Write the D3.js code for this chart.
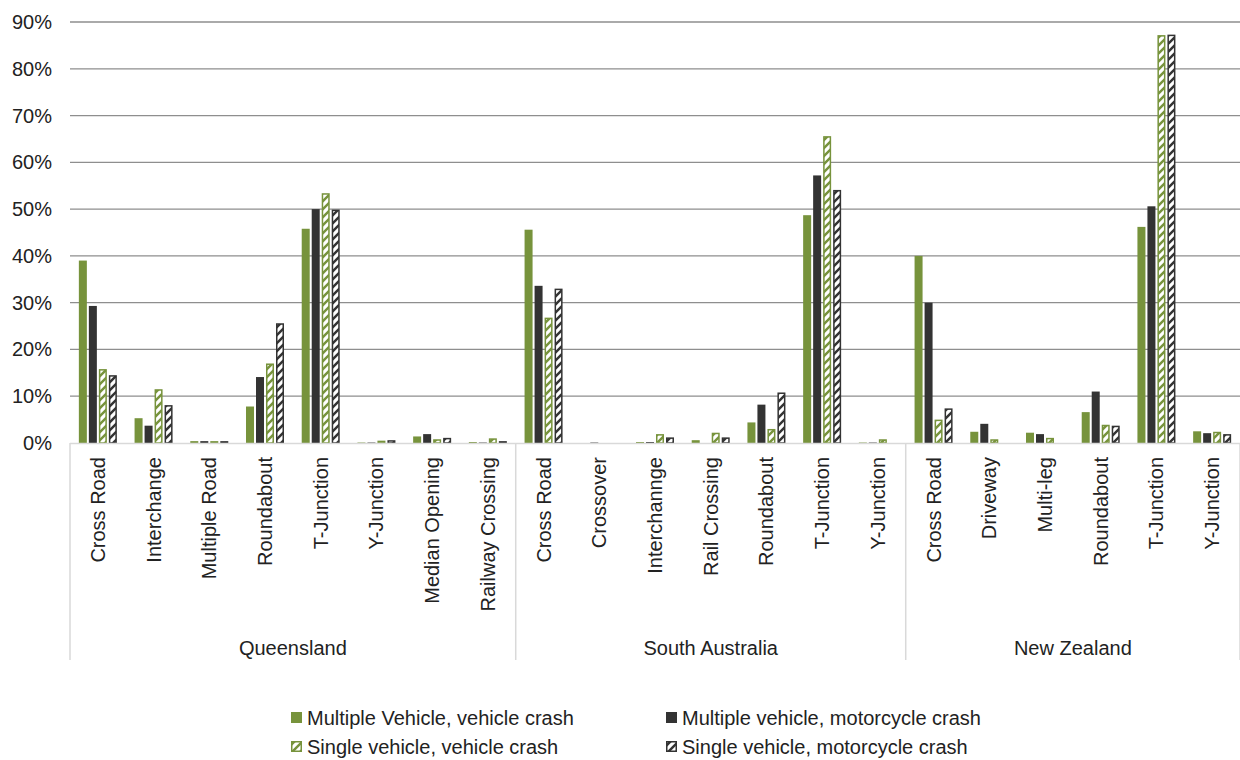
<!DOCTYPE html>
<html><head><meta charset="utf-8">
<script src="https://cdn.jsdelivr.net/npm/d3@7"></script>
<style>body{margin:0;background:#fff}svg{font-family:"Liberation Sans",Arial,sans-serif}</style>
</head><body><svg id="c" width="1240" height="760"></svg>
<script>
const groups = ["Queensland", "South Australia", "New Zealand"];
const categories = [
  ["Queensland","Cross Road"],["Queensland","Interchange"],["Queensland","Multiple Road"],["Queensland","Roundabout"],
  ["Queensland","T-Junction"],["Queensland","Y-Junction"],["Queensland","Median Opening"],["Queensland","Railway Crossing"],
  ["South Australia","Cross Road"],["South Australia","Crossover"],["South Australia","Interchannge"],["South Australia","Rail Crossing"],
  ["South Australia","Roundabout"],["South Australia","T-Junction"],["South Australia","Y-Junction"],
  ["New Zealand","Cross Road"],["New Zealand","Driveway"],["New Zealand","Multi-leg"],["New Zealand","Roundabout"],
  ["New Zealand","T-Junction"],["New Zealand","Y-Junction"]
];
const seriesNames = ["Multiple Vehicle, vehicle crash","Multiple vehicle, motorcycle crash","Single vehicle, vehicle crash","Single vehicle, motorcycle crash"];
const multiVehicle =  [39.0, 5.3, 0.4, 7.8, 45.8, 0.1, 1.4, 0.2,  45.6, 0.0, 0.2, 0.6, 4.4, 48.7, 0.1,  40.0, 2.4, 2.2, 6.6, 46.2, 2.5];
const multiMoto =     [29.3, 3.7, 0.4, 14.1, 50.0, 0.1, 1.9, 0.1, 33.6, 0.1, 0.2, 0.0, 8.2, 57.2, 0.1,  30.0, 4.1, 1.9, 11.0, 50.6, 2.1];
const singleVehicle = [15.8, 11.5, 0.4, 17.0, 53.4, 0.5, 0.8, 1.0, 26.8, 0.0, 1.9, 2.2, 3.0, 65.6, 0.8,  5.0, 0.8, 1.1, 3.9, 87.2, 2.4];
const singleMoto =    [14.5, 8.1, 0.4, 25.6, 49.9, 0.6, 1.1, 0.4, 33.0, 0.0, 1.2, 1.2, 10.8, 54.1, 0.0,  7.4, 0.0, 0.0, 3.7, 87.3, 1.9];
const yTicks = [0,10,20,30,40,50,60,70,80,90];

const GREEN = "#77933c", DARK = "#333333";
const svg = d3.select("#c");
const defs = svg.append("defs");
function hatch(id, color){
  const p = defs.append("pattern").attr("id", id).attr("patternUnits","userSpaceOnUse")
    .attr("width", 8).attr("height", 8);
  p.append("rect").attr("width",8).attr("height",8).attr("fill", color);
  p.append("path").attr("d","M-2,2 L2,-2 M0,8 L8,0 M6,10 L10,6").attr("stroke","#fff").attr("stroke-width",3.2);
}
hatch("hg", GREEN); hatch("hd", DARK);
const fills = [GREEN, DARK, "url(#hg)", "url(#hd)"];
const strokes = [null, null, GREEN, DARK];
const seriesData = [multiVehicle, multiMoto, singleVehicle, singleMoto];

const mLeft = 70, mRight = 1240, mTop = 22, mBottom = 443;
const x = d3.scaleBand().domain(d3.range(categories.length)).range([mLeft, mRight]).padding(0);
const step = x.step();
const xs = d3.scaleBand().domain(d3.range(4)).range([(step-38)/2, (step+38)/2]).paddingInner(0.2);
const y = d3.scaleLinear().domain([0, 90]).range([mBottom, mTop]);

// gridlines
svg.append("g").selectAll("line").data(yTicks.filter(t=>t>0)).join("line")
  .attr("x1", mLeft).attr("x2", mRight).attr("y1", d=>y(d)).attr("y2", d=>y(d))
  .attr("stroke", "#8e8e8e").attr("stroke-width", 1.3);
// y labels
svg.append("g").selectAll("text").data(yTicks).join("text")
  .attr("x", 52).attr("y", d=>y(d)).attr("dy","0.35em").attr("text-anchor","end")
  .attr("font-size", 20).attr("fill","#222").text(d=>d+"%");

// bars
const gBars = svg.append("g");
seriesData.forEach((vals, si) => {
  gBars.append("g").selectAll("rect").data(vals).join("rect")
    .attr("x", (d,i)=> x(i) + xs(si) + (strokes[si]?0.75:0))
    .attr("width", xs.bandwidth() - (strokes[si]?1.5:0))
    .attr("y", d => y(d) + (strokes[si]?0.75:0))
    .attr("height", d => Math.max(0, mBottom - y(d) - (strokes[si]?0.75:0)))
    .attr("fill", fills[si])
    .attr("stroke", strokes[si] || "none").attr("stroke-width", strokes[si]?1.5:0);
});

// category axis
const axisColor = "#d9d9d9";
svg.append("line").attr("x1", mLeft).attr("x2", mRight).attr("y1", mBottom+0.5).attr("y2", mBottom+0.5).attr("stroke", axisColor).attr("stroke-width",1.5);
const bounds = [0];
groups.forEach(g => bounds.push(bounds[bounds.length-1] + categories.filter(c=>c[0]===g).length));
svg.append("g").selectAll("line").data(bounds).join("line")
  .attr("x1", d => d < categories.length ? x(d) : mRight).attr("x2", d => d < categories.length ? x(d) : mRight)
  .attr("y1", mBottom).attr("y2", 660).attr("stroke", axisColor).attr("stroke-width",1.5);
svg.append("g").selectAll("text").data(categories).join("text")
  .attr("transform", (d,i)=>`translate(${x(i)+step/2},457) rotate(-90)`)
  .attr("dy","0.35em").attr("text-anchor","end").attr("font-size", 20).attr("fill","#222")
  .text(d=>d[1]);
svg.append("g").selectAll("text").data(groups).join("text")
  .attr("x", (g,i)=> (x(bounds[i]) + (bounds[i+1] < categories.length ? x(bounds[i+1]) : mRight))/2)
  .attr("y", 655).attr("text-anchor","middle").attr("font-size", 20).attr("fill","#222").text(d=>d);

// legend
const legPos = [[291,718],[666,718],[291,747],[666,747]];
const leg = svg.append("g");
seriesNames.forEach((n, i) => {
  const [lx, ly] = legPos[i];
  leg.append("rect").attr("x", lx+ (strokes[i]?0.75:0)).attr("y", ly-6 + (strokes[i]?0.75:0))
    .attr("width", strokes[i]?9.5:11).attr("height", strokes[i]?9.5:11)
    .attr("fill", fills[i]).attr("stroke", strokes[i]||"none").attr("stroke-width",1.5);
  leg.append("text").attr("x", lx+16).attr("y", ly).attr("dy","0.35em").attr("font-size", 20).attr("fill","#222").text(n);
});
</script></body></html>
